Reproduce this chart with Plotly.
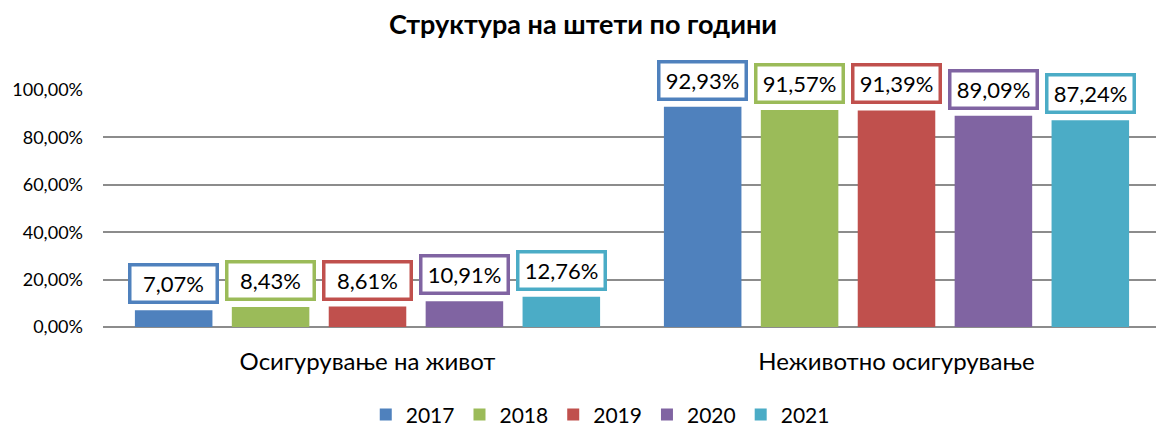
import plotly.graph_objects as go

categories = ["Осигурување на живот", "Неживотно осигурување"]
years = ["2017", "2018", "2019", "2020", "2021"]
values = {
    "2017": [7.07, 92.93],
    "2018": [8.43, 91.57],
    "2019": [8.61, 91.39],
    "2020": [10.91, 89.09],
    "2021": [12.76, 87.24],
}
colors = ["#4F81BD", "#9BBB59", "#C0504D", "#8064A2", "#4BACC6"]
tick_vals = [0, 20, 40, 60, 80, 100]
tick_text = ["0,00%", "20,00%", "40,00%", "60,00%", "80,00%", "100,00%"]

FONT = "Lato, Calibri, 'Open Sans', sans-serif"
bargap = 0.084
groupgap = 0.2

fig = go.Figure()
n = len(years)
slot = (1 - bargap) / n
annotations = []
for i, (yr, col) in enumerate(zip(years, colors)):
    fig.add_trace(go.Bar(name=yr, x=categories, y=values[yr], marker=dict(color=col, line=dict(width=0))))
    off = -(1 - bargap) / 2 + slot * (i + 0.5)
    for ci, v in enumerate(values[yr]):
        annotations.append(dict(
            x=ci + off, y=v, xref="x", yref="y",
            text=f"{v:.2f}".replace(".", ",") + "%",
            showarrow=False, yanchor="bottom", yshift=6,
            font=dict(family=FONT, size=22, color="#000000"),
            width=76, height=26, align="center", valign="middle",
            bgcolor="white", bordercolor=col, borderwidth=3.5, borderpad=4,
        ))

fig.update_layout(
    barmode="group", bargap=bargap, bargroupgap=groupgap,
    width=1164, height=427,
    margin=dict(l=95, r=11, t=82, b=108, autoexpand=False),
    paper_bgcolor="white", plot_bgcolor="white",
    title=dict(text="<b>Структура на штети по години</b>", x=0.494, xanchor="center", y=0.962, yanchor="middle",
               font=dict(family=FONT, size=27, color="#000000")),
    font=dict(family=FONT, color="#000000"),
    annotations=annotations,
    legend=dict(orientation="h", x=0.47, xanchor="center", y=-0.371, yanchor="middle",
                font=dict(family=FONT, size=21, color="#000000"), traceorder="normal"),
    showlegend=True,
)
fig.update_yaxes(range=[0, 100], tickvals=tick_vals, ticktext=tick_text,
                 showgrid=True, gridcolor="#8C8C8C", gridwidth=2,
                 zeroline=True, zerolinecolor="#8C8C8C", zerolinewidth=2,
                 tickfont=dict(family=FONT, size=18, color="#000000"), ticklabelstandoff=19,
                 showline=False, automargin=False)
fig.update_xaxes(tickfont=dict(family=FONT, size=24, color="#000000"), ticklabelstandoff=18,
                 showline=False, showgrid=False, automargin=False)

fig.write_html("out.html")
